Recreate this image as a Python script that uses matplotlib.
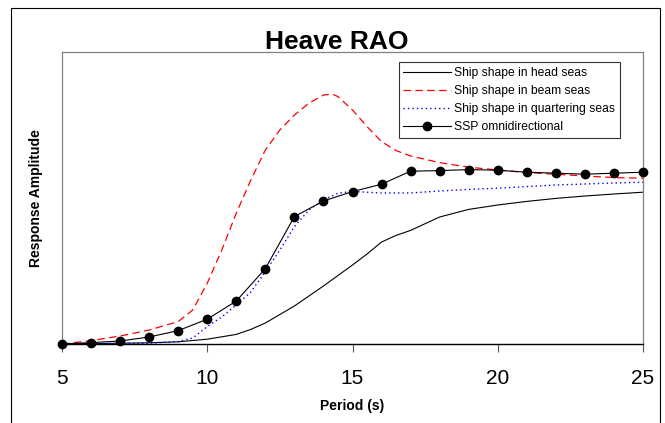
import matplotlib
matplotlib.use("Agg")
import matplotlib.pyplot as plt
from matplotlib.patches import Rectangle

plt.rcParams['font.family'] = ['Liberation Sans', 'DejaVu Sans']

# ---- data ----
ssp_x = [5, 6, 7, 8, 9, 10, 11, 12, 13, 14, 15, 16, 17, 18, 19, 20, 21, 22, 23, 24, 25]
ssp_y = [0, 0.007, 0.015, 0.035, 0.067, 0.124, 0.215, 0.377, 0.637, 0.715, 0.762,
         0.799, 0.864, 0.867, 0.872, 0.869, 0.859, 0.854, 0.849, 0.854, 0.859]

head_x = [5, 6, 7, 8, 9, 10, 11, 11.5, 12, 13, 14, 15, 15.5, 16, 16.5, 17, 18, 19, 20,
          21, 22, 23, 24, 25]
head_y = [0, 0.002, 0.004, 0.006, 0.011, 0.024, 0.048, 0.073, 0.105, 0.19, 0.29, 0.395,
          0.45, 0.51, 0.543, 0.568, 0.635, 0.673, 0.695, 0.713, 0.728, 0.74, 0.75, 0.759]

beam_x = [5, 6, 7, 8, 9, 9.5, 10, 10.5, 11, 11.5, 12, 12.5, 13, 13.5, 14, 14.3, 14.5, 15,
          15.5, 16, 16.5, 17, 18, 19, 20, 21, 22, 23, 24, 25]
beam_y = [0, 0.017, 0.04, 0.07, 0.112, 0.17, 0.304, 0.47, 0.654, 0.82, 0.97, 1.07, 1.145,
          1.204, 1.245, 1.25, 1.237, 1.17, 1.087, 1.012, 0.967, 0.94, 0.907, 0.884, 0.87,
          0.857, 0.849, 0.84, 0.832, 0.829]

quart_x = [5, 6, 7, 8, 9, 9.5, 10, 10.5, 11, 11.5, 12, 12.5, 13, 13.5, 14, 14.5, 15, 16,
           17, 18, 19, 20, 21, 22, 23, 24, 25]
quart_y = [0, 0, 0.002, 0.004, 0.012, 0.03, 0.087, 0.135, 0.195, 0.26, 0.362, 0.47, 0.587,
           0.67, 0.72, 0.754, 0.763, 0.755, 0.755, 0.765, 0.773, 0.779, 0.787, 0.795, 0.8,
           0.805, 0.809]

x_ticks = [5, 10, 15, 20, 25]
labels = ["Ship shape in head seas", "Ship shape in beam seas",
          "Ship shape in quartering seas", "SSP omnidirectional"]

# ---- figure ----
W, H = 665, 423
fig = plt.figure(figsize=(W / 100, H / 100), dpi=100)

# outer chart-area border
fig.patches.append(Rectangle((11 / W, -0.05), (660 - 11) / W, 1.05 - 8 / H,
                             transform=fig.transFigure, fill=False,
                             edgecolor='black', linewidth=0.8))

ax = fig.add_axes([62 / W, 1 - 344 / H, (643 - 62) / W, (344 - 52) / H])

ax.plot(head_x, head_y, color='black', lw=0.8, label=labels[0], zorder=3)
ax.plot(beam_x, beam_y, color='#ff0000', lw=0.9, dashes=(6, 3.5), label=labels[1], zorder=3)
ax.plot(quart_x, quart_y, color='#0000ff', lw=1.0, dashes=(1, 2.2), label=labels[2], zorder=3)
ax.plot(ssp_x, ssp_y, color='black', lw=0.8, marker='o', markersize=6,
        markerfacecolor='black', markeredgecolor='black', label=labels[3], zorder=4,
        clip_on=False)

ax.set_xlim(5, 25)
ax.set_ylim(0, 1.46)
ax.set_xticks(x_ticks)
ax.set_xticklabels([str(t) for t in x_ticks])
ax.set_yticks([])
ax.tick_params(axis='x', direction='out', length=6, width=0.8, labelsize=15, pad=12,
               color='#555555')

for s in ['top', 'right', 'left']:
    ax.spines[s].set_color('#808080')
    ax.spines[s].set_linewidth(0.9)
ax.spines['bottom'].set_color('black')
ax.spines['bottom'].set_linewidth(1.0)

fig.text(337 / W, 1 - 49 / H, "Heave RAO", fontsize=19, fontweight='bold',
         ha='center', va='baseline')
ax.set_xlabel("Period (s)", fontsize=10, fontweight='bold', labelpad=8)
ax.set_ylabel("Response Amplitude", fontsize=10, fontweight='bold', labelpad=14)

leg = ax.legend(loc='upper right', bbox_to_anchor=((620 - 62) / (643 - 62), (344 - 62) / (344 - 52)),
                fontsize=8.7, frameon=True, fancybox=False, handlelength=3.9,
                handletextpad=0.3, borderpad=0.4, labelspacing=0.5, borderaxespad=0)
leg.get_frame().set_edgecolor('black')
leg.get_frame().set_linewidth(0.8)

fig.savefig("out.png", dpi=100)
